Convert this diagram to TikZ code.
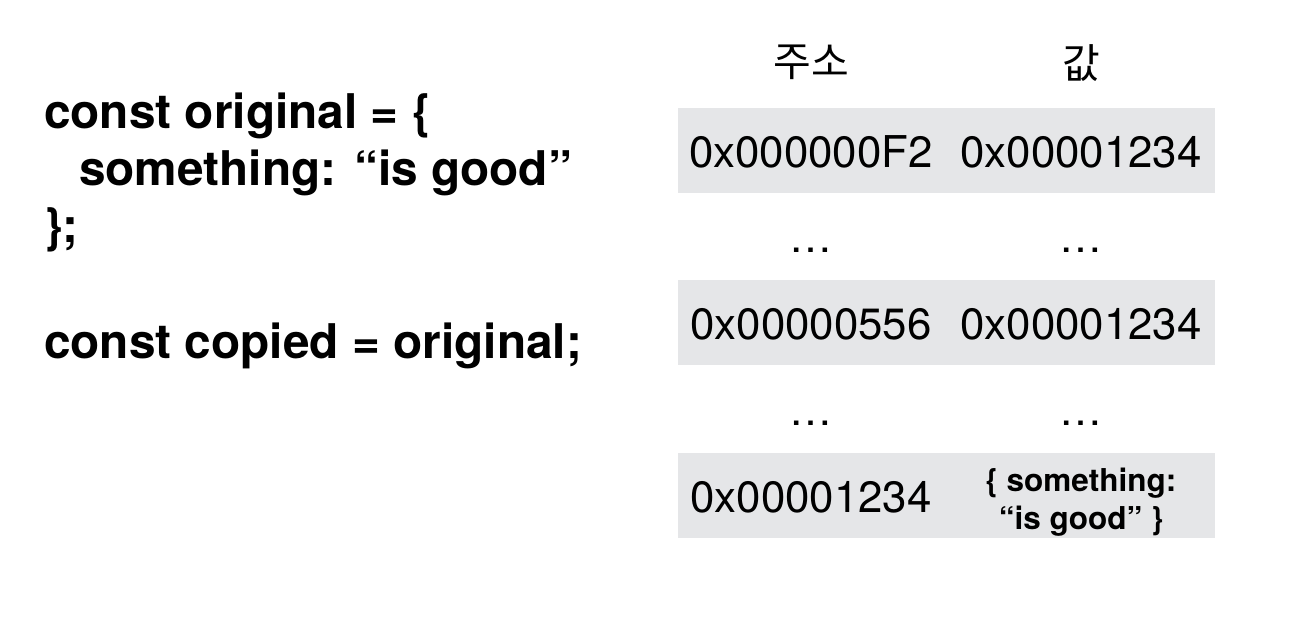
\documentclass[tikz,border=0pt]{standalone}
\usepackage{fontspec}
\setmainfont{TeX Gyre Heros}
\newfontfamily\kr{Noto Sans CJK KR}
\definecolor{cellgray}{RGB}{229,230,232}
\begin{document}
\begin{tikzpicture}[x=1pt,y=-1pt,
  cell/.style={fill=cellgray,draw=none,minimum width=537pt,minimum height=85pt,inner sep=0pt},
  addr/.style={font=\fontsize{43.8}{48}\selectfont,inner sep=0pt},
  hdr/.style={font=\kr\fontsize{41}{45}\selectfont,inner sep=0pt},
  code/.style={font=\fontsize{47.8}{52}\selectfont\bfseries,inner sep=0pt,anchor=base west},
  small/.style={font=\fontsize{31.5}{38}\selectfont\bfseries,inner sep=0pt,align=center},
  dots/.style={font=\fontsize{43}{48}\selectfont,inner sep=0pt}]
\useasboundingbox (0,0) rectangle (1290,630);
% code
\node[code] (c1) at (44,128) {const original = \{};
\node[code] (c2) at (79,185) {something: “is good”};
\node[code] (c3) at (44,242) {\};};
\node[code] (c4) at (44,358) {const copied = original;};
% headers
\node[hdr] (h1) at (811,62) {주소};
\node[hdr] (h2) at (1081,63) {값};
% rows
\node[cell] (r1) at (946.5,150.5) {};
\node[cell] (r2) at (946.5,322.5) {};
\node[cell] (r3) at (946.5,495.5) {};
\node[addr] (a1) at (811,152) {0x000000F2};
\node[addr] (v1) at (1081,152) {0x00001234};
\node[addr] (a2) at (811,324) {0x00000556};
\node[addr] (v2) at (1081,324) {0x00001234};
\node[addr] (a3) at (811,497) {0x00001234};
\node[small] (v3) at (1081,502) {\{ something:\\“is good” \}};
% dots
\node[dots] (d1) at (811,250) {…};
\node[dots] (d2) at (1081,250) {…};
\node[dots] (d3) at (811,423) {…};
\node[dots] (d4) at (1081,423) {…};
\end{tikzpicture}
\end{document}
